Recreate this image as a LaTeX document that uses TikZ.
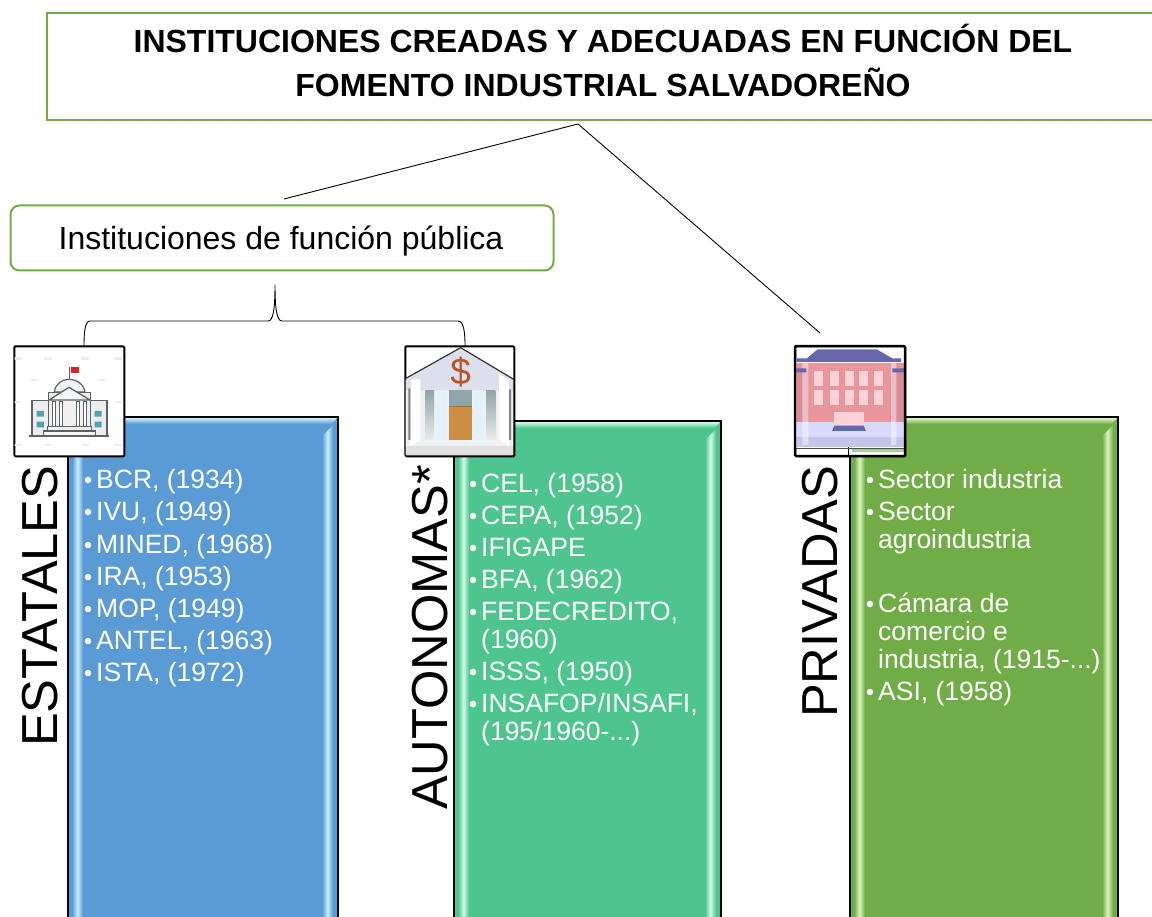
\documentclass[tikz,border=0pt]{standalone}
\usepackage{fontspec}
\setmainfont{Liberation Sans}
\definecolor{frameg}{HTML}{70AD47}
\definecolor{cblue}{HTML}{5B9BD5}
\definecolor{cblueh}{HTML}{C8EEFC}
\definecolor{cmint}{HTML}{4EC58E}
\definecolor{cminth}{HTML}{D0FAE8}
\definecolor{cgreen}{HTML}{70AD47}
\definecolor{cgreenh}{HTML}{DDF5C2}
\definecolor{iline}{HTML}{5A6268}
\definecolor{iteal}{HTML}{4FA3AE}
\definecolor{roofp}{HTML}{6466AE}
\definecolor{brick}{HTML}{E8959C}
\definecolor{brickd}{HTML}{D88D96}
\definecolor{brickl}{HTML}{FDD3D8}
\definecolor{lav}{HTML}{D9DAFB}
\definecolor{lavd}{HTML}{C3C4EA}
\definecolor{doorc}{HTML}{CC8E42}
\definecolor{roofl}{HTML}{DDDFEC}
\definecolor{wallc}{HTML}{EEF0F4}
\definecolor{colg}{HTML}{8FA5A8}
\definecolor{colb}{HTML}{E3F1FA}
\definecolor{dollarc}{HTML}{B5562A}
\tikzset{
  titlebox/.style={draw=frameg,line width=2pt,fill=white,minimum width=1200pt,minimum height=107pt,inner sep=0pt},
  pubbox/.style={draw=frameg,line width=2pt,rounded corners=9pt,fill=white,minimum width=543pt,minimum height=65pt,inner sep=0pt},
  panel/.style={draw=black,line width=1.3pt,minimum width=#1,minimum height=560pt,inner sep=0pt,anchor=north west},
  iconbox/.style={draw=black,line width=1.3pt,rounded corners=1pt,minimum width=110pt,minimum height=110pt,inner sep=0pt,anchor=north west},
  vlabel/.style={rotate=90,font=\fontsize{50.6}{50.6}\selectfont,anchor=base,inner sep=0pt,text=black},
  item/.style={anchor=base west,inner sep=0pt,text=white,font=\fontsize{26.5}{27}\selectfont},
  dot/.style={circle,fill=white,draw=none,minimum size=6.5pt,inner sep=0pt},
  link/.style={draw=black,line width=0.9pt},
  zoomscale/.style={shift={(#1,330)},scale=1/3},
}
% bullet + text: x of bullet, x of text, baseline, name, text
\newcommand{\bul}[5]{\node[dot] (d#4) at (#1,#3-8) {};\node[item] (t#4) at (#2,#3) {#5};}
\newcommand{\bevel}[5]{% left,right,top,base colour,highlight colour
  \shade[left color=#4,right color=#4,middle color=#5] (#1+4,#3+24) -- (#1+15,#3+13) -- (#1+15,925) -- (#1+4,925) -- cycle;
  \shade[left color=#4,right color=#4,middle color=#5] (#2-16,#3+19) -- (#2-5,#3+8) -- (#2-5,925) -- (#2-16,925) -- cycle;
  \shade[top color=#5,bottom color=#4] (#1+1,#3+1) -- (#2-1,#3+1) -- (#2-6,#3+7) -- (#1+5,#3+7) -- cycle;
}
\begin{document}
\begin{tikzpicture}[x=1pt,y=-1pt]
\useasboundingbox (0,0) rectangle (1152,917);
\clip (0,0) rectangle (1152,917);

% title
\node[titlebox,anchor=north west] (title) at (45.5,12.5) {};
\node[font=\bfseries\fontsize{32}{44}\selectfont,align=center,inner sep=0pt,anchor=center] (titletext) at (603,60.5)
  {INSTITUCIONES CREADAS Y ADECUADAS EN FUNCIÓN DEL\\FOMENTO INDUSTRIAL SALVADOREÑO};

% public box
\node[pubbox,anchor=north west] (pub) at (9.5,204.5) {};
\node[font=\fontsize{32}{32}\selectfont,inner sep=0pt,anchor=base] (pubtext) at (281,250) {Instituciones de función pública};

% connectors
\coordinate (fork) at (578,124);
\coordinate (toPub) at (284,199);
\coordinate (toPriv) at (820,333);
\draw[link] (toPub) -- (fork) -- (toPriv);

% panels
\node[panel=270pt,fill=cblue] (p1) at (68,417) {};
\bevel{68}{338}{417}{cblue}{cblueh}
\draw[black,line width=1.3pt] (68,417) rectangle (338,930);

\node[panel=267pt,fill=cmint] (p2) at (454,421) {};
\bevel{454}{721}{421}{cmint}{cminth}
\draw[black,line width=1.3pt] (454,421) rectangle (721,930);

\node[panel=268pt,fill=cgreen] (p3) at (850,417) {};
\bevel{850}{1118}{417}{cgreen}{cgreenh}
\draw[black,line width=1.3pt] (850,417) rectangle (1118,930);

% icon frames
\node[iconbox,fill=white] (i1) at (14,346) {};
\node[iconbox,minimum width=109pt,fill=white] (i2) at (405,346) {};
\node[iconbox,fill=white] (i3) at (795,346) {};

% brace
\coordinate (braceTip) at (275,285);
\coordinate (braceL) at (84,346);
\coordinate (braceR) at (465,346);
\draw[link] (braceL)
  .. controls (84,332) and (85,321) .. (90,321) -- (268,321)
  .. controls (273,321) and (275,310) .. (braceTip)
  .. controls (275,310) and (277,321) .. (282,321) -- (458,321)
  .. controls (464,321) and (465,333) .. (braceR);

% icon 1
\begin{scope}[zoomscale=0]
  \foreach \x/\y in {55/85,145/85,255/85,355/85,105/150,305/150,55/345,145/345,255/345,355/345,55/215,355/215}
    \fill[black!7] (\x-12,\y-3) rectangle (\x+12,\y+4);
  \draw[iline,line width=1.1pt,fill=black!7] (96,212) rectangle (146,318);
  \draw[iline,line width=1.1pt,fill=black!7] (270,212) rectangle (321,318);
  \fill[iteal] (110,243) rectangle (132,260) (110,275) rectangle (132,292) (284,243) rectangle (305,260) (284,275) rectangle (305,292);
  \draw[iline,line width=1.2pt,fill=black!5] (163,186) .. controls (170,135) and (245,135) .. (255,186) -- cycle;
  \draw[iline,line width=1.3pt,fill=black!6] (145,187) rectangle (272,300);
  \draw[iline,line width=1.3pt,fill=black!4] (147,210) -- (207,172) -- (270,210) -- cycle;
  \foreach \x in {158,178,230,250}
    \draw[iline,line width=1.1pt,fill=white] (\x,214) rectangle (\x+9,290);
  \draw[iline,line width=1.2pt,fill=black!6] (143,290) rectangle (274,303);
  \draw[iline,line width=1.2pt,fill=black!4] (131,303) rectangle (286,318);
  \draw[iline,line width=1.1pt] (86,318) -- (328,318);
  \draw[iline,line width=1.1pt] (208,146) -- (208,110);
  \fill[red!80!black!85] (212,110) rectangle (237,130);
\end{scope}

% icon 2
\begin{scope}[zoomscale=395]
  \fill[wallc] (30,150) rectangle (357,378);
  \fill[roofl] (31,146) -- (197,54) -- (356,146) -- (356,182) -- (31,182) -- cycle;
  \fill[black!12] (31,348) rectangle (357,378);
  \fill[white] (48,148) -- (76,148) -- (76,330) -- (46,348) -- cycle;
  \fill[white] (312,132) -- (342,150) -- (342,348) -- (312,330) -- cycle;
  \foreach \x/\w in {91/26,273/28}
    \shade[top color=colg,bottom color=black!8] (\x,181) rectangle (\x+\w,330);
  \fill[colb] (125,181) rectangle (155,330) (236,181) rectangle (266,330);
  \fill[colg] (162,181) rectangle (230,228);
  \fill[doorc] (162,228) rectangle (230,330);
  \draw[doorc!80!black,line width=.8pt] (162,228) -- (230,228);
  \fill[black!50] (40,175) rectangle (46,330) (342,178) rectangle (348,330);
  \draw[black!80,line width=1.2pt] (31,146) -- (197,53) -- (356,148);
  \node[text=dollarc,font=\fontsize{37}{37}\selectfont,inner sep=0pt] (dollar) at (197,127) {\$};
\end{scope}

% icon 3
\begin{scope}[zoomscale=785]
  \fill[lav] (32,275) rectangle (358,352);
  \fill[lavd] (32,322) rectangle (358,352);
  \fill[brick] (34,100) rectangle (358,275);
  \fill[brickd] (34,120) rectangle (70,275) (322,120) rectangle (358,275);
  \fill[white,opacity=.45] (52,85) rectangle (70,345) (318,85) rectangle (334,345);
  \fill[roofp] (98,58) -- (275,58) -- (322,85) -- (348,85) -- (348,96) -- (36,96) -- (36,85) -- (66,85) -- cycle;
  \fill[roofp] (34,115) rectangle (64,127) (322,115) rectangle (358,127);
  \foreach \x in {88,134,180,223,268}{
    \fill[brickl] (\x,123) rectangle (\x+27,167);
    \fill[brickl] (\x,179) rectangle (\x+27,224);
  }
  \fill[brickl] (147,247) rectangle (238,286);
  \fill[roofp] (148,287) -- (236,287) -- (243,303) -- (141,303) -- cycle;
  \fill[cgreen!60!white] (200,355) rectangle (358,365);
  \draw[black,line width=.7pt] (190,352) -- (190,375);
  \draw[black!70,line width=.6pt] (32,355) -- (358,355);
\end{scope}

% icon outlines on top
\draw[black,line width=1.3pt,rounded corners=1pt] (14,346) rectangle (124,456);
\draw[black,line width=1.3pt,rounded corners=1pt] (405,346) rectangle (514,456);
\draw[black,line width=2.4pt,rounded corners=1pt] (795,346) rectangle (905,456);

% vertical labels
\node[vlabel,anchor=base west] (vEst) at (57.5,747) {ESTATALES};
\node[vlabel,anchor=base west] (vAut) at (447,810) {AUTONOMAS*};
\node[vlabel,anchor=base west] (vPri) at (837.5,718) {PRIVADAS};

% lists
\bul{88}{96}{488}{a}{BCR, (1934)}
\bul{88}{96}{520}{b}{IVU, (1949)}
\bul{88}{96}{553}{c}{MINED, (1968)}
\bul{88}{96}{585}{e}{IRA, (1953)}
\bul{88}{96}{617}{f}{MOP, (1949)}
\bul{88}{96}{649}{g}{ANTEL, (1963)}
\bul{88}{96}{681}{h}{ISTA, (1972)}

\bul{473}{481}{492}{k}{CEL, (1958)}
\bul{473}{481}{524}{l}{CEPA, (1952)}
\bul{473}{481}{556}{m}{IFIGAPE}
\bul{473}{481}{588}{n}{BFA, (1962)}
\bul{473}{481}{620}{o}{FEDECREDITO,}
\node[item] (to2) at (481,648) {(1960)};
\bul{473}{481}{680}{q}{ISSS, (1950)}
\bul{473}{481}{712}{r}{INSAFOP/INSAFI,}
\node[item] (tr2) at (481,740) {(195/1960-...)};

\bul{870}{878}{488}{s}{Sector industria}
\bul{870}{878}{520}{u}{Sector}
\node[item] (tu2) at (878,548) {agroindustria};
\bul{870}{878}{612}{v}{Cámara de}
\node[item] (tv2) at (878,640) {comercio e};
\node[item] (tv3) at (878,668) {industria, (1915-...)};
\bul{870}{878}{700}{w}{ASI, (1958)}
\end{tikzpicture}
\end{document}
